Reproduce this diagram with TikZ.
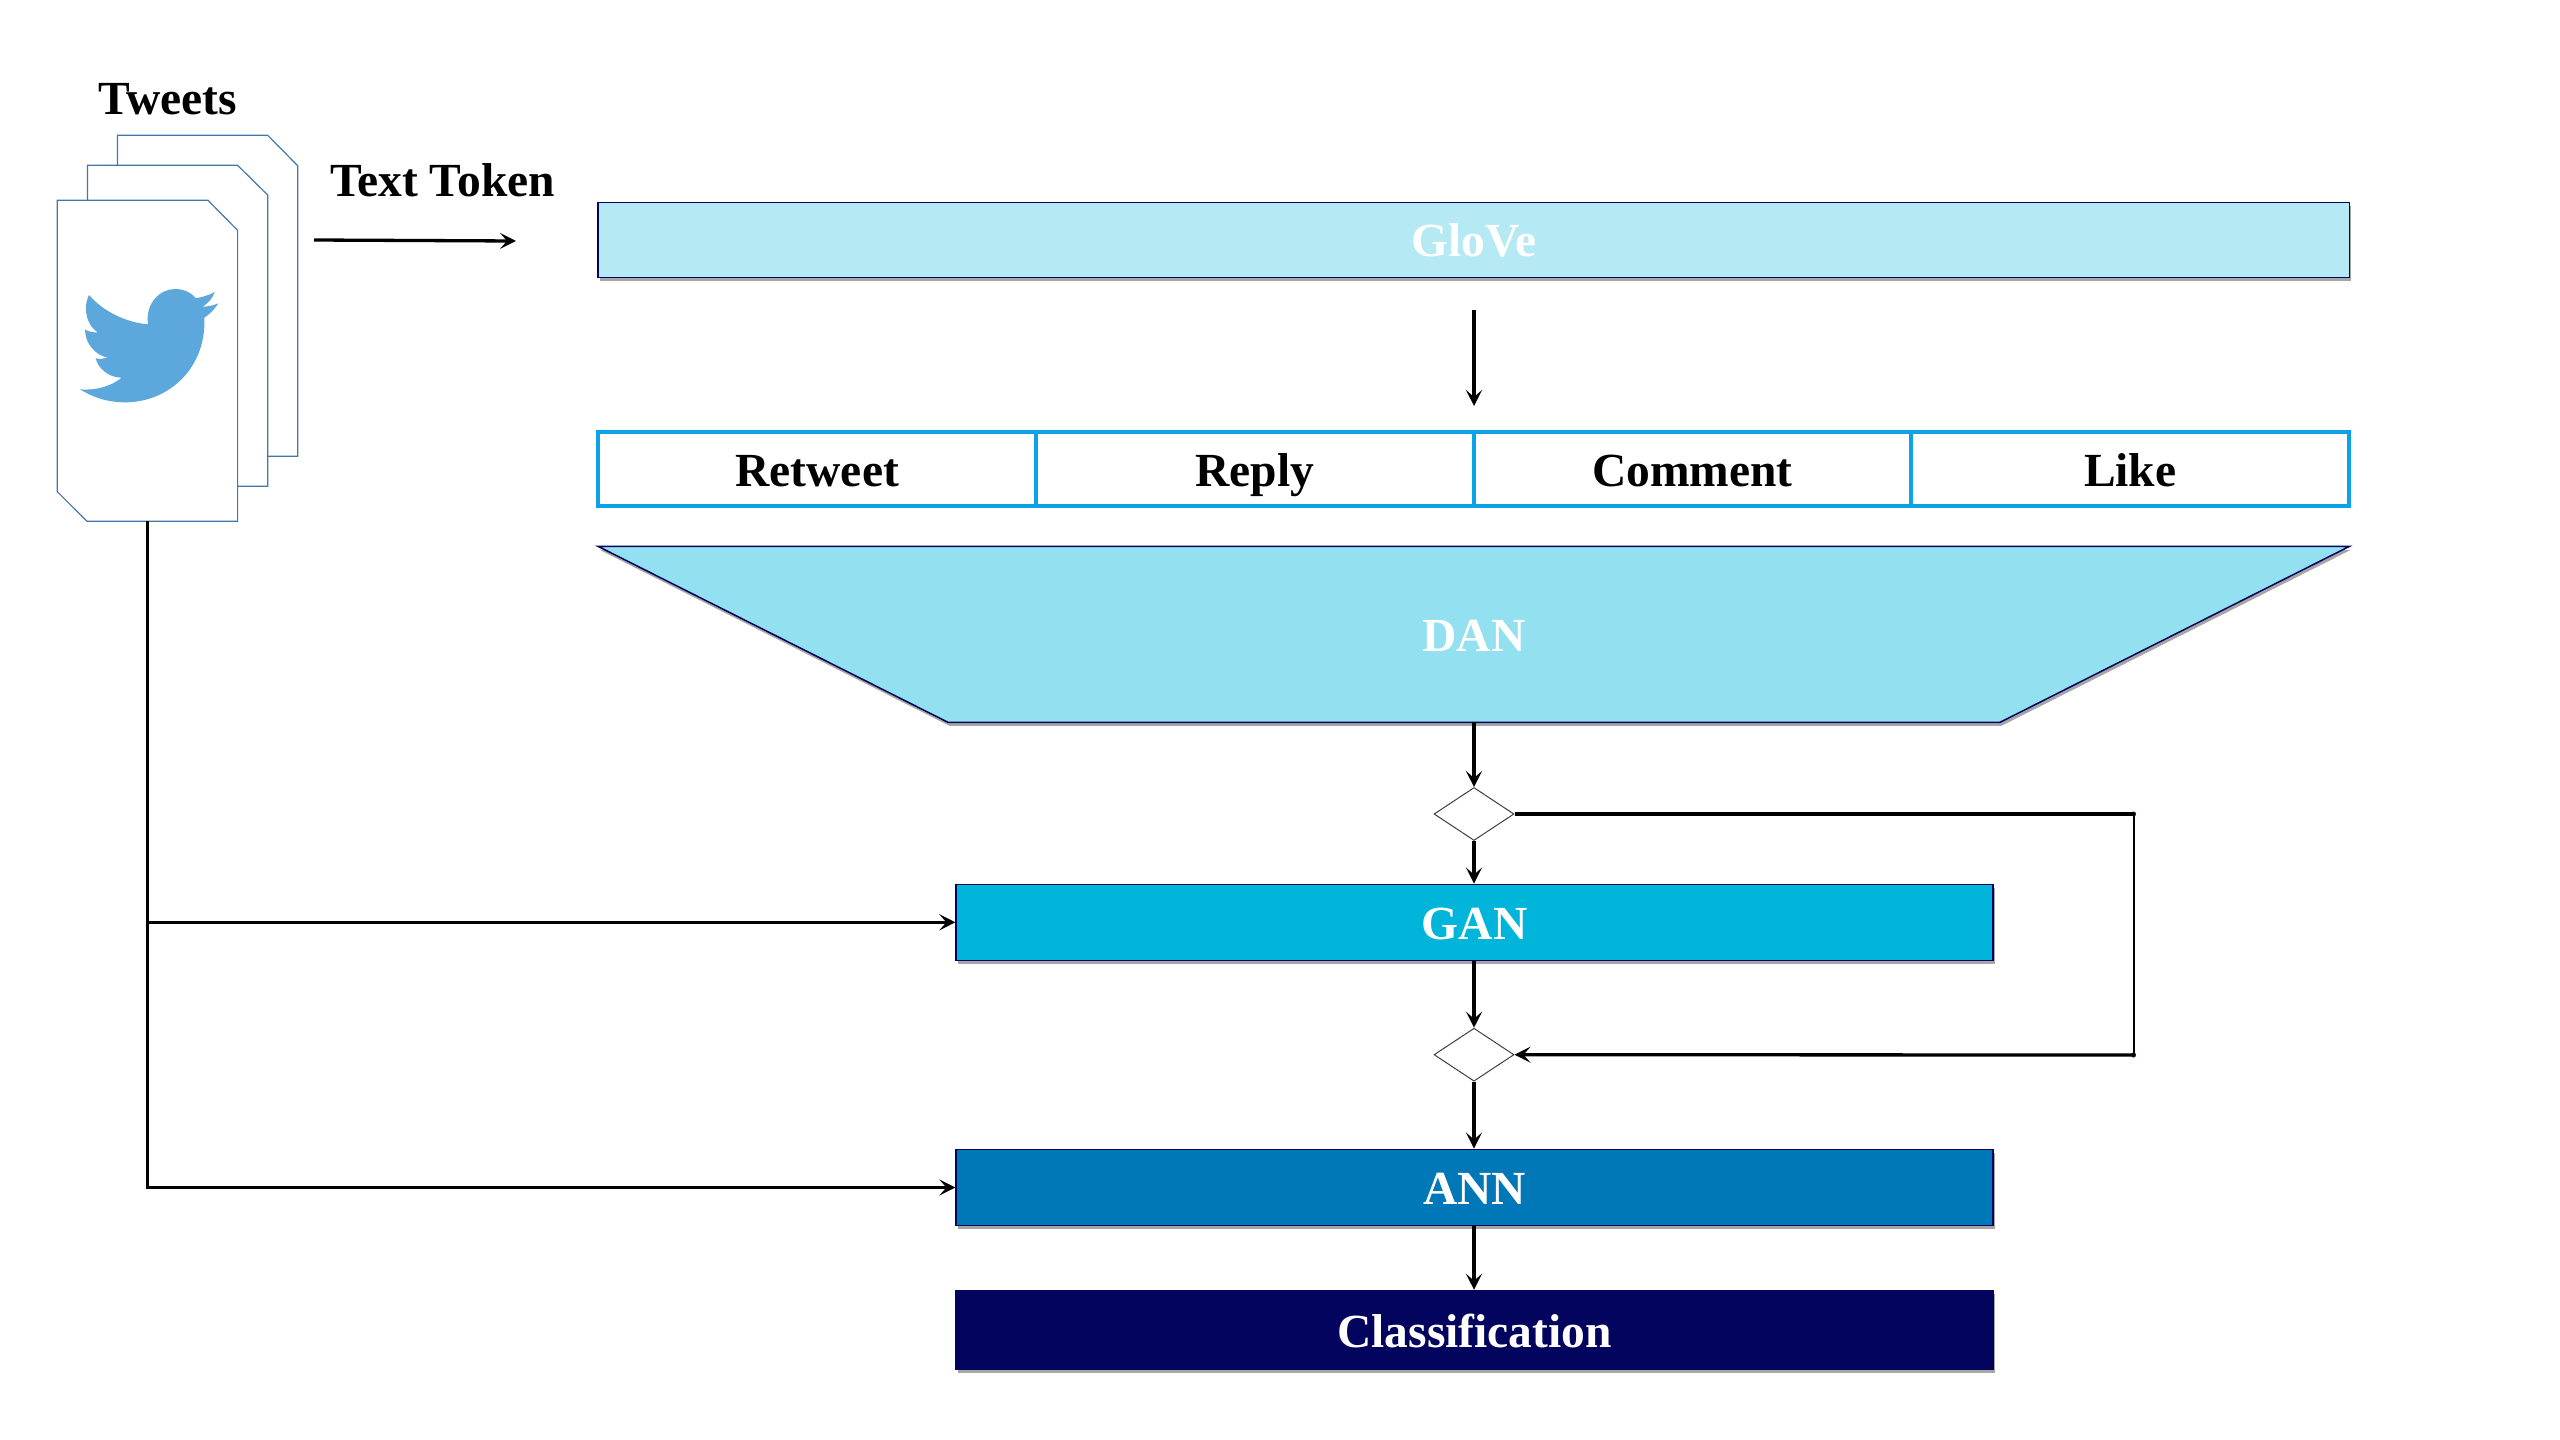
\documentclass[tikz,border=0pt]{standalone}
\usepackage{fontspec}
\setmainfont{Liberation Serif}
\usetikzlibrary{arrows.meta,shapes.geometric,shadows,calc}
\definecolor{cglove}{HTML}{B5E9F4}
\definecolor{cdan}{HTML}{92E0F0}
\definecolor{cgan}{HTML}{00B4DA}
\definecolor{cann}{HTML}{0077B6}
\definecolor{cclass}{HTML}{02045E}
\definecolor{ccell}{HTML}{0CA2E8}
\definecolor{cpage}{HTML}{4377AB}
\definecolor{cbird}{HTML}{5CA7DC}
\tikzset{
  shade3/.style={drop shadow={shadow xshift=1.5pt,shadow yshift=-3.5pt,fill=black,opacity=0.35}},
  lbl/.style={font=\fontsize{47.5pt}{50pt}\selectfont\bfseries,inner sep=0pt,text height=34pt,text depth=0pt,align=center},
  layerbox/.style={lbl,rectangle,draw=cclass,line width=1.5pt,text=white,shade3},
  cellbox/.style={lbl,rectangle,draw=ccell,line width=4pt,fill=white,text=black,minimum width=437.65pt,minimum height=74pt},
  page/.style={draw=cpage,line width=1.2pt,fill=white},
  conn/.style={line width=3.3pt,-{Stealth[length=16pt,width=16pt,inset=7pt]}},
  plain/.style={line width=3.3pt},
  decide/.style={diamond,draw=black!75,line width=1pt,fill=white,inner sep=0pt,aspect=1.5,minimum width=80pt,minimum height=53pt},
  caption/.style={font=\fontsize{47.5pt}{50pt}\selectfont\bfseries,inner sep=0pt,anchor=base,text=black},
  tinydot/.style={circle,fill=cclass,inner sep=0pt,minimum size=5pt}
}
\begin{document}
\begin{tikzpicture}[x=1pt,y=-1pt]
\useasboundingbox (0,0) rectangle (2560,1440);
% pages
\draw[page] (117.4,135.3) -- (267.7,135.3) -- (297.7,165.7) -- (297.7,456.3) -- (147.4,456.3) -- (117.4,425) -- cycle;
\draw[page] (87.4,165.3) -- (237.6,165.3) -- (267.7,195) -- (267.7,486.3) -- (117.4,486.3) -- (87.4,456) -- cycle;
\draw[page] (57.3,200.3) -- (208,200.3) -- (237.6,230.3) -- (237.6,521.3) -- (87,521.3) -- (57.3,491.7) -- cycle;
\coordinate (tw) at (147.4,521.3);
% bird
\begin{scope}[shift={(70pt,-280pt)},x=0.3333pt,y=-0.3333pt]
\fill[cbird] (57,45) .. controls (100,95) and (170,128) .. (234,133)
  .. controls (225,70) and (270,27) .. (315,27)
  .. controls (345,27) and (365,40) .. (378,55)
  .. controls (400,50) and (420,45) .. (434,36)
  .. controls (428,55) and (415,70) .. (398,80)
  .. controls (415,80) and (430,76) .. (445,70)
  .. controls (435,85) and (420,103) .. (403,113)
  .. controls (410,260) and (300,367) .. (165,367)
  .. controls (110,367) and (65,350) .. (30,328)
  .. controls (80,332) and (125,318) .. (155,293)
  .. controls (115,293) and (85,265) .. (77,235)
  .. controls (90,238) and (100,236) .. (113,233)
  .. controls (75,225) and (45,190) .. (45,148)
  .. controls (55,155) and (70,158) .. (83,157)
  .. controls (55,140) and (35,90) .. (57,45) -- cycle;
\end{scope}
% captions
\node[caption] (tweets) at (167.5,114) {Tweets};
\node[caption] (token) at (442.5,196) {Text Token};
\coordinate (tka) at (314,240);
\coordinate (tkb) at (516,241);
\draw[conn] (tka) -- (tkb);
% layers
\node[layerbox,fill=cglove,minimum width=1751.3pt,minimum height=75pt] (glove) at (1473.65,239.8) {GloVe};
\node[cellbox] (c1) at (817.2,469) {Retweet};
\node[cellbox] (c2) at (1254.9,469) {Reply};
\node[cellbox] (c3) at (1692.5,469) {Comment};
\node[cellbox] (c4) at (2130.2,469) {Like};
\draw[draw=cclass,line width=1.5pt,fill=cdan,shade3] (598,546.3) -- (2349.5,546.3) -- (2000,722.3) -- (948,722.3) -- cycle;
\node[lbl,text=white] (dan) at (1474,634.5) {DAN};
\coordinate (danb) at (1474,722.3);
\coordinate (ga) at (1474,310);
\coordinate (gb) at (1474,406);
\draw[conn] (ga) -- (gb);
\node[decide] (d1) at (1474,814) {};
\node[layerbox,fill=cgan,minimum width=1037pt,minimum height=76pt] (gan) at (1474.6,922.3) {GAN};
\node[decide] (d2) at (1474,1054.7) {};
\node[layerbox,fill=cann,minimum width=1037pt,minimum height=76.4pt] (ann) at (1474.6,1187.5) {ANN};
\node[layerbox,fill=cclass,minimum width=1037pt,minimum height=79pt] (cls) at (1474.6,1330) {Classification};
% connectors
\draw[conn] (danb) -- (d1.north);
\draw[conn] (d1.south) -- (d1.south |- gan.north);
\draw[conn] (d1.south |- gan.south) -- (d2.north);
\draw[conn] (d2.south) -- (d2.south |- ann.north);
\draw[conn] (d2.south |- ann.south) -- (d2.south |- cls.north);
\node[tinydot] (fa) at (2133.5,814) {};
\node[tinydot] (fb) at (2133.5,1055) {};
\draw[plain] (d1.east) -- (fa.center);
\draw[line width=2pt] (fa.center) -- (fb.center);
\draw[conn] (fb.center) -- (d2.east);
\draw[conn] (tw) |- (gan.west);
\draw[conn] (tw) |- (ann.west);
\end{tikzpicture}
\end{document}
